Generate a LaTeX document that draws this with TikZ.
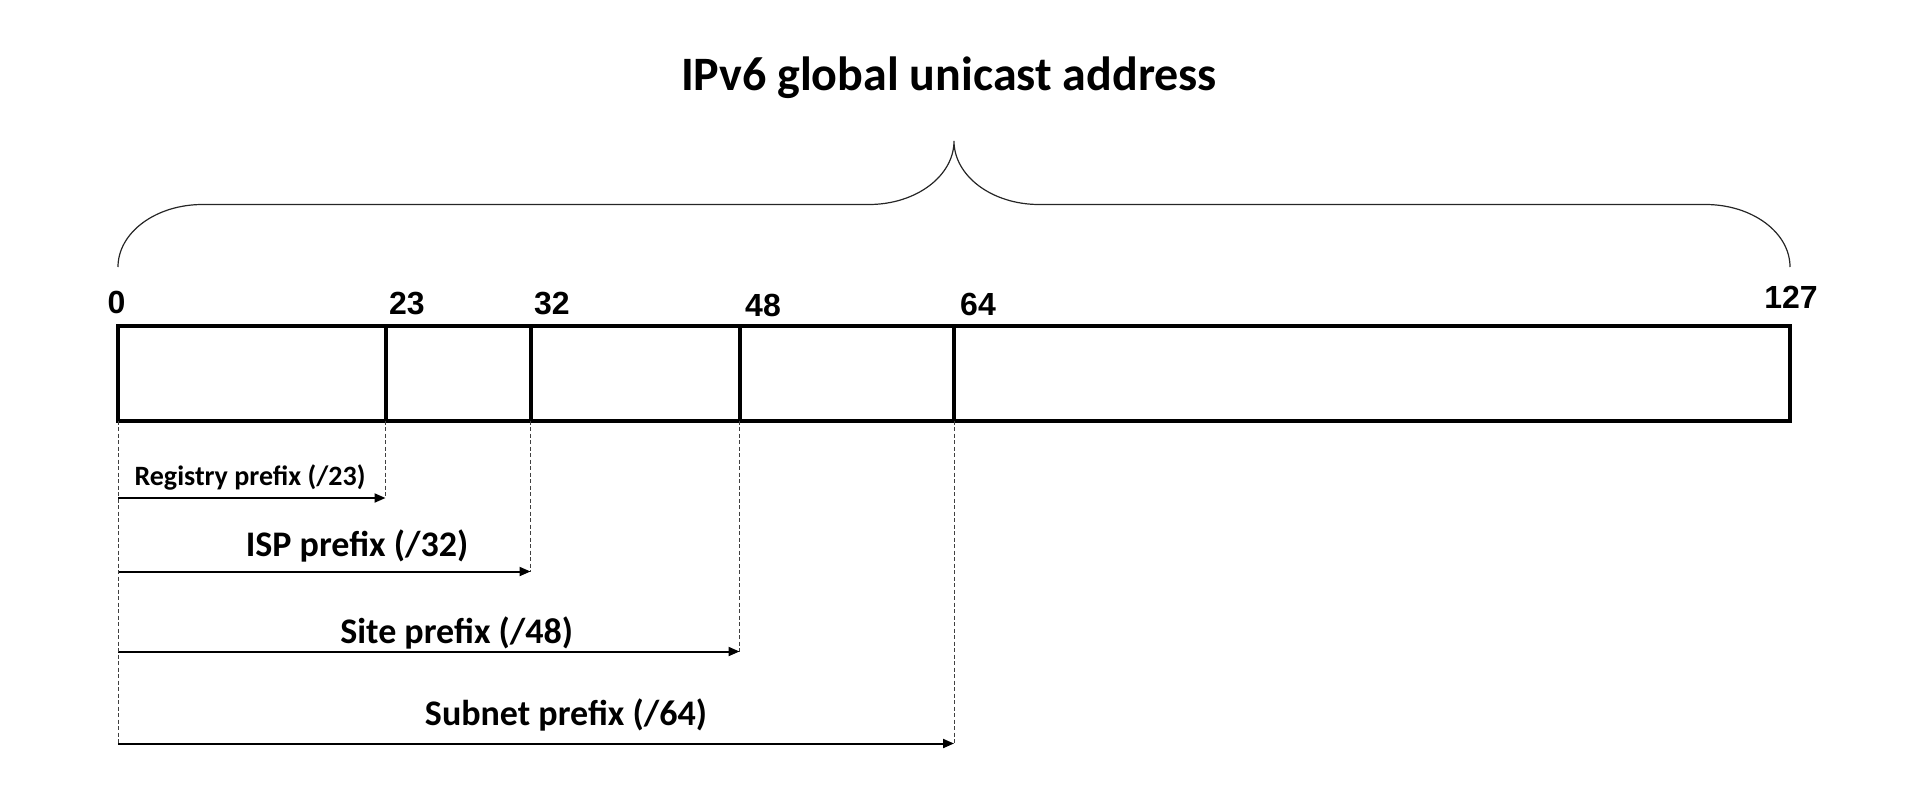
\documentclass[tikz,border=0pt]{standalone}
\usepackage{fontspec}
\setmainfont{Carlito}
\newfontfamily\digitfont{Liberation Sans}
\usetikzlibrary{positioning,arrows.meta}

\begin{document}
\begin{tikzpicture}
    [x=1pt,y=-1pt,
     addr/.style={line width=4pt},
     bitlabel/.style={font=\digitfont\bfseries\fontsize{32}{32}\selectfont,inner sep=0pt,anchor=base west},
     prefixlabel/.style={font=\bfseries\fontsize{36}{36}\selectfont,inner sep=0pt,anchor=base},
     spanarrow/.style={-{Triangle[length=11pt,width=9pt]},line width=2pt},
     guide/.style={line width=0.9pt,dash pattern=on 4pt off 2.5pt,black!75},
     curly/.style={line width=1.2pt,black!85}]

    \useasboundingbox (0,0) rectangle (1920,792);

    \foreach \b/\x in {0/118,23/385.5,32/530.5,48/739.5,64/954,127/1790} {
      \coordinate (t\b) at (\x,326);
      \coordinate (u\b) at (\x,420.5);
    }
    \draw[addr] (t0) rectangle (u127);
    \foreach \b in {23,32,48,64}
      \draw[addr] (t\b) -- (u\b);

    \node[bitlabel,anchor=base] (n0) at (116.5,313) {0};
    \node[bitlabel] (n23) at (389,314) {23};
    \node[bitlabel] (n32) at (534,314) {32};
    \node[bitlabel] (n48) at (745,316) {48};
    \node[bitlabel] (n64) at (960,315) {64};
    \node[bitlabel,anchor=base] (n127) at (1791,308) {127};

    \node[font=\bfseries\fontsize{48}{48}\selectfont,inner sep=0pt,anchor=base] (title) at (949,90.7) {IPv6 global unicast address};

    \coordinate (lend) at (118,267);
    \coordinate (tip) at (954,141);
    \coordinate (rend) at (1790,267);
    \draw[curly] (lend) .. controls (118,232.5) and (155.8,204.5) .. (202.5,204.5) -- (869,204.5)
      .. controls (916,204.5) and (954,176) .. (tip)
      .. controls (954,176) and (992,204.5) .. (1039,204.5) -- (1705.5,204.5)
      .. controls (1752.2,204.5) and (1790,232.5) .. (rend);

    \foreach \b/\y in {23/498,32/571.5,48/651.5,64/743.5} {
      \coordinate (s\b) at (118,\y);
      \coordinate (e\b) at (t\b |- s\b);
      \draw[guide] (u\b) -- (e\b);
      \draw[spanarrow] (s\b) -- (e\b);
    }
    \draw[guide] (u0) -- (s64);

    \node[prefixlabel,font=\bfseries\fontsize{28}{28}\selectfont] (registry) at (250,485) {Registry prefix (/23)};
    \node[prefixlabel] (isp) at (357,556.7) {ISP prefix (/32)};
    \node[prefixlabel] (site) at (456.7,643.3) {Site prefix (/48)};
    \node[prefixlabel] (subnet) at (566,725) {Subnet prefix (/64)};
\end{tikzpicture}
\end{document}
